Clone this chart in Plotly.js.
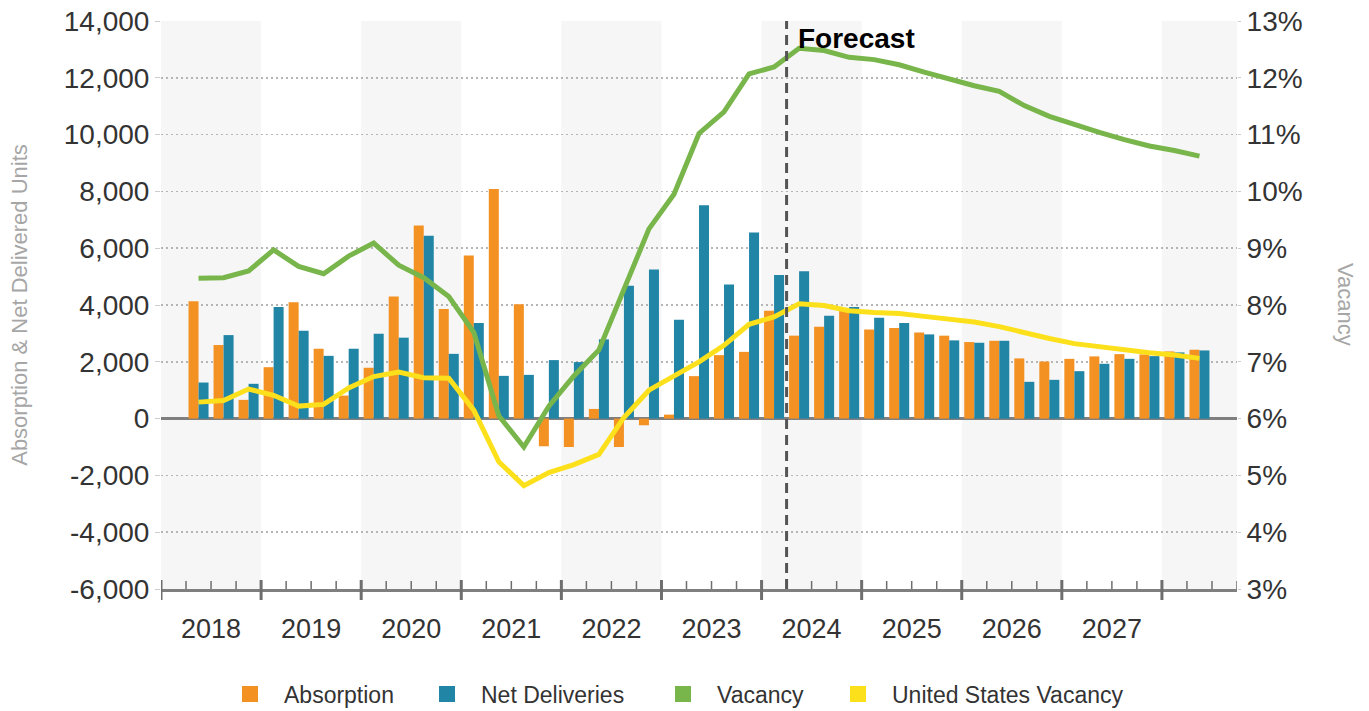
<!DOCTYPE html>
<html>
<head>
<meta charset="utf-8">
<script src="https://cdn.plot.ly/plotly-3.0.1.min.js"></script>
<style>
  html, body { margin: 0; padding: 0; background: #ffffff; }
  #chart { width: 1369px; height: 711px; }
</style>
</head>
<body>
<div id="chart"></div>
<script>
// Quarters shown (2018 Q2 .. 2028 Q2)
const quarters = [
  "2018Q2","2018Q3","2018Q4",
  "2019Q1","2019Q2","2019Q3","2019Q4",
  "2020Q1","2020Q2","2020Q3","2020Q4",
  "2021Q1","2021Q2","2021Q3","2021Q4",
  "2022Q1","2022Q2","2022Q3","2022Q4",
  "2023Q1","2023Q2","2023Q3","2023Q4",
  "2024Q1","2024Q2","2024Q3","2024Q4",
  "2025Q1","2025Q2","2025Q3","2025Q4",
  "2026Q1","2026Q2","2026Q3","2026Q4",
  "2027Q1","2027Q2","2027Q3","2027Q4",
  "2028Q1","2028Q2"
];

const absorption = [
  4130, 2590, 660, 1810, 4095, 2460, 810, 1790, 4295, 6800,
  3860, 5740, 8085, 4025, -975, -1000, 340, -1000, -235, 140,
  1495, 2235, 2350, 3800, 2920, 3235, 3790, 3140, 3190, 3035,
  2920, 2695, 2740, 2120, 2010, 2105, 2190, 2270, 2260, 2365,
  2425
];

const netDeliveries = [
  1270, 2940, 1225, 3930, 3095, 2210, 2460, 2990, 2850, 6435,
  2280, 3365, 1505, 1540, 2060, 1990, 2790, 4680, 5250, 3480,
  7510, 4720, 6555, 5060, 5190, 3625, 3930, 3555, 3365, 2965,
  2755, 2670, 2740, 1295, 1365, 1670, 1930, 2105, 2200, 2330,
  2400
];

const vacancy = [
  8.47, 8.48, 8.60, 8.97, 8.68, 8.55, 8.86, 9.09, 8.70, 8.48,
  8.15, 7.52, 6.05, 5.50, 6.22, 6.75, 7.21, 8.30, 9.34, 9.95,
  11.02, 11.40, 12.07, 12.19, 12.52, 12.48, 12.36, 12.32, 12.23, 12.10,
  11.97, 11.86, 11.76, 11.51, 11.32, 11.17, 11.04, 10.91, 10.80, 10.72,
  10.62
];

const usVacancy = [
  6.29, 6.32, 6.52, 6.41, 6.22, 6.25, 6.54, 6.74, 6.82, 6.72,
  6.71, 6.15, 5.24, 4.82, 5.05, 5.19, 5.37, 6.02, 6.50, 6.74,
  7.00, 7.29, 7.66, 7.79, 8.02, 7.99, 7.90, 7.87, 7.85, 7.80,
  7.76, 7.70, 7.62, 7.51, 7.41, 7.32, 7.26, 7.20, 7.16, 7.12,
  7.06
];

const yearLabels = ["2018","2019","2020","2021","2022","2023","2024","2025","2026","2027"];
const leftTickVals = [-6000, -4000, -2000, 0, 2000, 4000, 6000, 8000, 10000, 12000, 14000];
const rightTickVals = [3, 4, 5, 6, 7, 8, 9, 10, 11, 12, 13];
const seriesNames = ['Absorption', 'Net Deliveries', 'Vacancy', 'United States Vacancy'];
const firstYear = 2018;
const forecastStart = "2024Q2";
const axisEndQuarters = 43; // axis runs from 2018Q1 start to 2028Q4 start

// Position of each quarter on a linear axis measured in quarters from 2018Q1 start
function qPos(label) {
  const y = parseInt(label.slice(0, 4), 10);
  const q = parseInt(label.slice(5), 10);
  return (y - firstYear) * 4 + (q - 1) + 0.5;
}
const xPos = quarters.map(qPos);
const yearCenters = yearLabels.map(y => (parseInt(y, 10) - firstYear) * 4 + 2);
// plain hyphen for negatives, comma thousands
const leftTickText = leftTickVals.map(v => (v < 0 ? '-' : '') + Math.abs(v).toLocaleString('en-US'));
const rightTickText = rightTickVals.map(v => v + '%');

const C_ORANGE = '#F39123';
const C_BLUE = '#2185A6';
const C_GREEN = '#78B54A';
const C_YELLOW = '#FDE01C';
const colors = [C_ORANGE, C_BLUE, C_GREEN, C_YELLOW];
const FONT = 'Liberation Sans, Arial, Helvetica, sans-serif';

const traces = [
  { type: 'bar', name: seriesNames[0], x: xPos, y: absorption,
    marker: { color: C_ORANGE }, showlegend: false, hoverinfo: 'skip' },
  { type: 'bar', name: seriesNames[1], x: xPos, y: netDeliveries,
    marker: { color: C_BLUE }, showlegend: false, hoverinfo: 'skip' },
  { type: 'scatter', mode: 'lines', name: seriesNames[2], x: xPos, y: vacancy, yaxis: 'y2',
    line: { color: C_GREEN, width: 5 }, showlegend: false, hoverinfo: 'skip' },
  { type: 'scatter', mode: 'lines', name: seriesNames[3], x: xPos, y: usVacancy, yaxis: 'y2',
    line: { color: C_YELLOW, width: 5 }, showlegend: false, hoverinfo: 'skip' }
];
// Legend entries (square swatches, as in the original), one legend each for exact placement
const legendKeys = ['legend', 'legend2', 'legend3', 'legend4'];
seriesNames.forEach((n, i) => traces.push({
  type: 'scatter', mode: 'markers', name: n, x: [null], y: [null], legend: legendKeys[i],
  marker: { symbol: 'square', size: 16, color: colors[i] }, showlegend: true, hoverinfo: 'skip'
}));

const shapes = [];
// alternating year bands
for (let s = 0; s < axisEndQuarters; s += 8) {
  shapes.push({ type: 'rect', xref: 'x', yref: 'paper', x0: s, x1: Math.min(s + 4, axisEndQuarters),
    y0: 0, y1: 1, fillcolor: '#f6f6f6', line: { width: 0 }, layer: 'below' });
}
// x-axis tick marks: year boundaries cross the axis, quarter boundaries sit inside
const plotH = 568;
for (let q = 0; q <= axisEndQuarters; q++) {
  if (q % 4 === 0) {
    shapes.push({ type: 'line', xref: 'x', yref: 'paper', x0: q, x1: q,
      y0: -11 / plotH, y1: 9 / plotH, line: { color: '#6e6e6e', width: 3 }, layer: 'above' });
  } else {
    shapes.push({ type: 'line', xref: 'x', yref: 'paper', x0: q, x1: q,
      y0: 0, y1: 8 / plotH, line: { color: '#6e6e6e', width: 1.5 }, layer: 'above' });
  }
}
// forecast divider
const fPos = qPos(forecastStart) - 0.5;
shapes.push({ type: 'line', xref: 'x', yref: 'paper', x0: fPos, x1: fPos, y0: 0, y1: 1,
  line: { color: '#555555', width: 3, dash: '10px,6px' }, layer: 'above' });

// legend placement: left edge of each legend item (px) in the 1369-wide container
const legendLeftPx = [216, 413, 649, 824];
function legendCfg(px) {
  return {
    orientation: 'h', xref: 'container', yref: 'container',
    x: px / 1369, xanchor: 'left', y: 17 / 711, yanchor: 'middle',
    font: { size: 23, color: '#333333', family: FONT }, itemwidth: 58,
    bgcolor: 'rgba(0,0,0,0)', borderwidth: 0
  };
}

const layout = {
  width: 1369, height: 711,
  margin: { l: 161, r: 132, t: 21, b: 122 },
  paper_bgcolor: '#ffffff', plot_bgcolor: 'rgba(0,0,0,0)',
  font: { family: FONT, color: '#333333' },
  barmode: 'group', bargap: 0.2, bargroupgap: 0,
  showlegend: true,
  legend: legendCfg(legendLeftPx[0]),
  legend2: legendCfg(legendLeftPx[1]),
  legend3: legendCfg(legendLeftPx[2]),
  legend4: legendCfg(legendLeftPx[3]),
  xaxis: {
    range: [0, axisEndQuarters], tickmode: 'array', tickvals: yearCenters, ticktext: yearLabels,
    ticks: 'outside', ticklen: 14, tickcolor: 'rgba(0,0,0,0)',
    tickfont: { size: 27, color: '#333333' },
    showgrid: false, zeroline: false, showline: true, linecolor: '#7f7f7f', linewidth: 3,
    fixedrange: true
  },
  yaxis: {
    range: [-6000, 14000], tickmode: 'array', tickvals: leftTickVals, ticktext: leftTickText,
    showgrid: true, gridcolor: '#b5b5b5', gridwidth: 1.5, griddash: '2px,3px',
    zeroline: true, zerolinecolor: '#7f7f7f', zerolinewidth: 3,
    ticks: 'outside', ticklen: 5, tickcolor: '#cccccc',
    tickfont: { size: 28, color: '#333333' },
    title: { text: 'Absorption & Net Delivered Units', font: { size: 22, color: '#a6a6a6' }, standoff: 30 },
    fixedrange: true
  },
  yaxis2: {
    overlaying: 'y', side: 'right', range: [3, 13], tickmode: 'array',
    tickvals: rightTickVals, ticktext: rightTickText,
    showgrid: false, zeroline: false,
    ticks: 'outside', ticklen: 3, tickcolor: '#cccccc',
    tickfont: { size: 28, color: '#333333' },
    fixedrange: true
  },
  shapes: shapes,
  annotations: [
    { text: '<b>Forecast</b>', xref: 'x', yref: 'paper', x: fPos, y: 0.970, xanchor: 'left', yanchor: 'middle',
      xshift: 9, showarrow: false, font: { size: 28, color: '#000000', family: FONT } },
    { text: 'Vacancy', xref: 'paper', yref: 'paper', x: 1.1013, y: 0.5, xanchor: 'center', yanchor: 'middle',
      textangle: 90, showarrow: false, font: { size: 22, color: '#a6a6a6', family: FONT } }
  ]
};

Plotly.newPlot('chart', traces, layout, { displayModeBar: false, staticPlot: true });
</script>
</body>
</html>
